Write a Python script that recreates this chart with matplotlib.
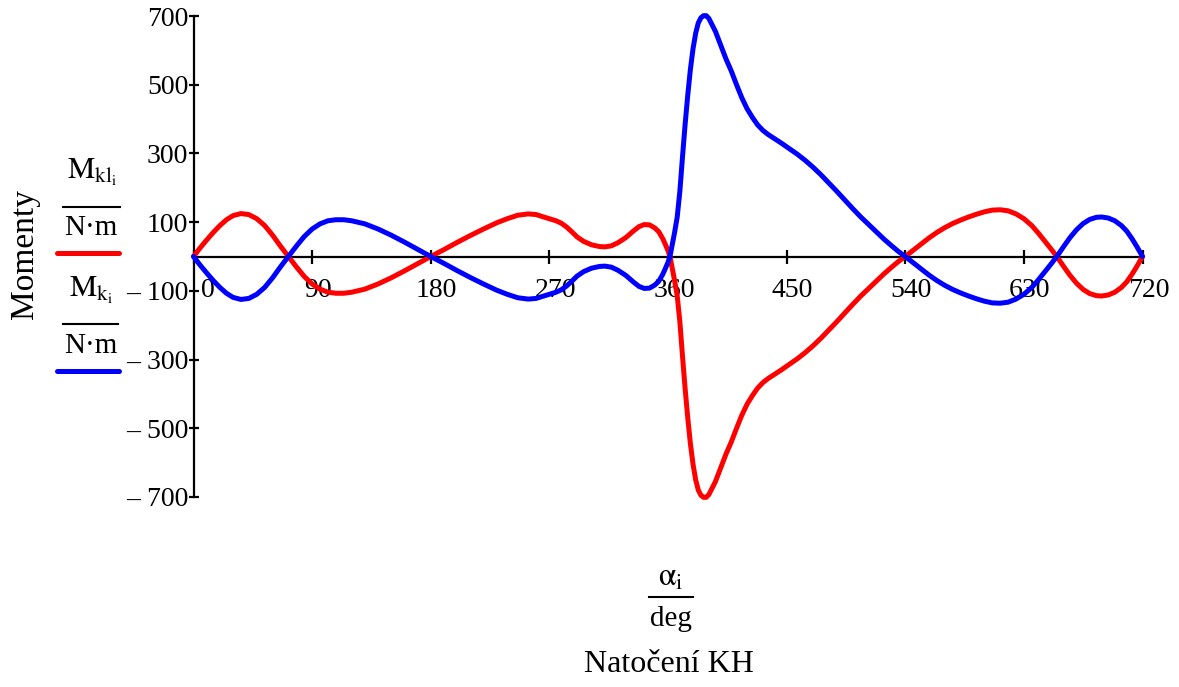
import matplotlib
matplotlib.use("Agg")
import matplotlib.pyplot as plt
from matplotlib.lines import Line2D
from matplotlib.transforms import ScaledTranslation

# ---------------- data ----------------
alpha_deg = [0, 5, 10, 15, 20, 25, 30, 36, 42, 48, 54, 60, 66, 72,
             78, 84, 90, 96, 102, 108, 114, 120, 130, 140, 150, 160, 170, 180,
             190, 200, 210, 220, 230, 238, 246, 254, 260,
             264, 270, 275, 279, 283, 287, 291, 296, 302, 308, 312, 317, 322, 328,
             334, 338, 342, 346, 350, 353, 356, 358, 360, 361.5,
             363, 365, 367, 369, 371, 373, 375, 377, 379, 381, 383, 385, 387, 389,
             391, 393, 396, 400, 404, 408, 412, 416, 420, 424, 428, 432, 436, 440,
             446, 452, 458, 464, 470, 476, 482, 488, 494, 500, 506, 512, 518, 524,
             530, 535, 540,
             546, 552, 558, 564, 570, 576, 582, 588, 594, 600, 606, 612, 618, 624,
             630, 636, 641, 646, 651, 655,
             660, 665, 670, 675, 680, 685, 689, 694, 699, 704, 708, 712, 716, 720]

M_kl = [0, 25, 48, 70, 90, 107, 119, 125, 122, 110, 90, 62, 30, 0,
        -30, -58, -80, -95, -104, -107, -107, -104, -95, -80, -62, -42, -21, 0,
        20, 41, 61, 80, 98, 110, 120, 124, 122,
        117, 110, 104, 97, 86, 72, 57, 44, 34, 29, 28, 31, 40, 55,
        75, 87, 93, 92, 83, 72, 52, 35, 17, 0,
        -30, -70, -115, -190, -290, -385, -470, -545, -605, -650, -680, -695, -701, -701,
        -693, -678, -655, -615, -575, -540, -500, -462, -430, -405, -383, -367, -355, -345,
        -330, -314, -298, -280, -260, -238, -214, -190, -165, -140, -116, -94, -72, -50,
        -30, -14, 0,
        18, 36, 54, 70, 84, 96, 106, 115, 123, 130, 135, 136, 133, 124,
        110, 90, 68, 44, 20, 0,
        -28, -55, -78, -96, -108, -114, -115, -112, -104, -90, -74, -52, -27, 0]

M_k = [0, -25, -48, -70, -90, -107, -119, -125, -122, -110, -90, -62, -30, 0,
       30, 58, 80, 95, 104, 107, 107, 104, 95, 80, 62, 42, 21, 0,
       -20, -41, -61, -80, -98, -110, -120, -124, -122,
       -117, -110, -104, -97, -86, -72, -57, -44, -34, -29, -28, -31, -40, -55,
       -75, -87, -93, -92, -83, -72, -52, -35, -17, 0,
       30, 70, 115, 190, 290, 385, 470, 545, 605, 650, 680, 695, 701, 701,
       693, 678, 655, 615, 575, 540, 500, 462, 430, 405, 383, 367, 355, 345,
       330, 314, 298, 280, 260, 238, 214, 190, 165, 140, 116, 94, 72, 50,
       30, 14, 0,
       -18, -36, -54, -70, -84, -96, -106, -115, -123, -130, -135, -136, -133, -124,
       -110, -90, -68, -44, -20, 0,
       28, 55, 78, 96, 108, 114, 115, 112, 104, 90, 74, 52, 27, 0]

x_ticks = [0, 90, 180, 270, 360, 450, 540, 630, 720]
y_ticks = [-700, -500, -300, -100, 100, 300, 500, 700]
y_tick_labels = ["\u2013 700", "\u2013 500", "\u2013 300", "\u2013 100", "100", "300", "500", "700"]

# ---------------- style ----------------
plt.rcParams['font.family'] = ['Liberation Serif', 'DejaVu Serif']
plt.rcParams['mathtext.fontset'] = 'stix'

W, H = 1179, 687
fig = plt.figure(figsize=(W / 100, H / 100), dpi=100)


def fx(x):
    return x / W


def fy(y):
    return 1 - y / H


ax = fig.add_axes([fx(193.5), fy(497), (1142.5 - 193.5) / W, (497 - 16) / H])
ax.set_xlim(0, 720)
ax.set_ylim(-700, 700)

ax.plot(alpha_deg, M_kl, color='#ff0000', lw=3.6, solid_capstyle='round',
        solid_joinstyle='round', clip_on=False, zorder=3)
ax.plot(alpha_deg, M_k, color='#0000ff', lw=3.6, solid_capstyle='round',
        solid_joinstyle='round', clip_on=False, zorder=4)

for s in ['top', 'right']:
    ax.spines[s].set_visible(False)
ax.spines['bottom'].set_position(('data', 0))
ax.spines['bottom'].set_linewidth(1.6)
ax.spines['left'].set_linewidth(1.6)

ax.set_xticks(x_ticks)
ax.set_xticklabels([str(v) for v in x_ticks])
ax.set_yticks(y_ticks)
ax.set_yticklabels(y_tick_labels)
ax.tick_params(axis='x', direction='inout', length=9.5, width=1.6, pad=10.5, labelsize=20)
ax.tick_params(axis='y', direction='inout', length=7.5, width=1.6, pad=0, labelsize=20)

# x labels sit slightly right of their ticks, the first one further inward
for k, lbl in enumerate(ax.get_xticklabels()):
    dx = 0.14 if k == 0 else 0.06
    lbl.set_transform(lbl.get_transform() + ScaledTranslation(dx, 0, fig.dpi_scale_trans))

# ---------------- y label & legend-like fractions ----------------
fig.text(fx(25), fy(254), "Momenty", rotation=90, ha='center', va='center', fontsize=24)

fig.text(fx(92), fy(172), r"$\mathrm{M}_{\mathrm{kl}_{\mathrm{i}}}$", ha='center', va='center', fontsize=22)
fig.add_artist(Line2D([fx(63), fx(120)], [fy(207), fy(207)], color='black', lw=1.5))
fig.text(fx(91), fy(228), "N\u00b7m", ha='center', va='center', fontsize=21)
fig.add_artist(Line2D([fx(57), fx(119)], [fy(253), fy(253)], color='#ff0000', lw=3.6,
                      solid_capstyle='round'))

fig.text(fx(91), fy(290), r"$\mathrm{M}_{\mathrm{k}_{\mathrm{i}}}$", ha='center', va='center', fontsize=22)
fig.add_artist(Line2D([fx(63), fx(118)], [fy(324), fy(324)], color='black', lw=1.5))
fig.text(fx(91), fy(346), "N\u00b7m", ha='center', va='center', fontsize=21)
fig.add_artist(Line2D([fx(57), fx(119)], [fy(371), fy(371)], color='#0000ff', lw=3.6,
                      solid_capstyle='round'))

# ---------------- x label ----------------
fig.text(fx(671), fy(578), r"$\mathrm{\alpha}_{\mathrm{i}}$", ha='center', va='center', fontsize=23)
fig.add_artist(Line2D([fx(649), fx(693)], [fy(597), fy(597)], color='black', lw=1.5))
fig.text(fx(671), fy(619), "deg", ha='center', va='center', fontsize=21)
fig.text(fx(669), fy(664), "Natočení KH", ha='center', va='center', fontsize=23)

fig.savefig("out.png", dpi=100)
